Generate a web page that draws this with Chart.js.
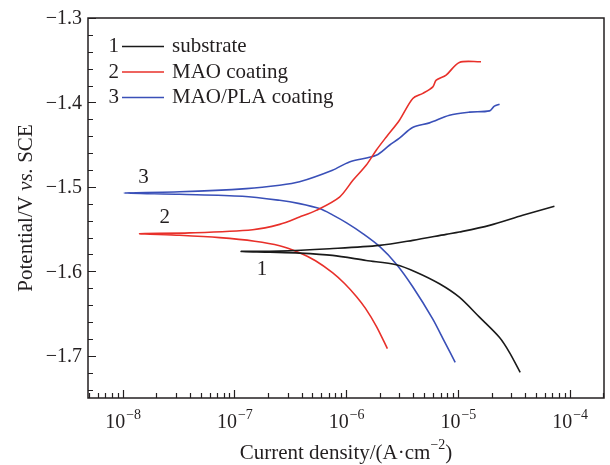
<!DOCTYPE html>
<html>
<head>
<meta charset="utf-8">
<script src="https://cdn.jsdelivr.net/npm/chart.js@4/dist/chart.umd.min.js"></script>
<style>
  body { margin: 0; background: #fff; }
  #wrap { width: 610px; height: 465px; }
</style>
</head>
<body>
<div id="wrap"><canvas id="tafelChart"></canvas></div>
<script>
// Polarisation curves (current in A/cm2, potential in V vs. SCE)
// each curve runs cathodic end -> corrosion potential -> anodic end
const substrateCurrent = [3.61e-5, 2.90e-5, 2.36e-5, 1.56e-5, 1.03e-5, 6.84e-6, 4.24e-6, 2.81e-6, 1.51e-6, 7.55e-7, 3.83e-7, 2.07e-7, 1.15e-7,
  2.54e-7, 7.11e-7, 1.99e-6, 3.95e-6, 7.85e-6, 1.03e-5, 1.92e-5, 3.80e-5, 7.31e-5];
const substratePotential = [-1.7196, -1.6962, -1.6784, -1.6543, -1.6306, -1.6147, -1.6010, -1.5922, -1.5871, -1.5811, -1.5784, -1.5773, -1.5764,
  -1.5760, -1.5732, -1.5693, -1.5633, -1.5562, -1.5535, -1.5456, -1.5337, -1.5230];

const maoCurrent = [2.34e-6, 1.87e-6, 1.49e-6, 1.24e-6, 9.68e-7, 7.55e-7, 5.32e-7, 3.83e-7, 2.54e-7, 1.52e-7, 7.38e-8, 3.24e-8, 1.42e-8,
  3.97e-8, 1.46e-7, 2.54e-7, 3.83e-7, 5.40e-7, 8.73e-7, 1.15e-6, 1.51e-6, 1.86e-6, 2.29e-6, 3.00e-6, 3.95e-6, 4.86e-6,
  5.97e-6, 6.40e-6, 7.85e-6, 1.03e-5, 1.61e-5];
const maoPotential = [-1.6915, -1.6654, -1.6439, -1.6300, -1.6144, -1.6015, -1.5874, -1.5779, -1.5696, -1.5643, -1.5601, -1.5573, -1.5554,
  -1.5545, -1.5507, -1.5444, -1.5357, -1.5278, -1.5120, -1.4922, -1.4744, -1.4566, -1.4408, -1.4210, -1.3953, -1.3893,
  -1.3815, -1.3736, -1.3676, -1.3526, -1.3518];

const plaCurrent = [9.46e-6, 7.59e-6, 5.93e-6, 3.93e-6, 2.83e-6, 1.99e-6, 1.40e-6, 1.01e-6, 7.55e-7, 5.78e-7, 3.83e-7, 2.54e-7, 1.18e-7, 3.24e-8, 1.03e-8,
  3.24e-8, 1.28e-7, 2.54e-7, 3.83e-7, 7.55e-7, 1.07e-6, 1.86e-6, 2.44e-6, 3.00e-6, 3.93e-6, 5.57e-6, 8.41e-6, 1.27e-5,
  1.92e-5, 2.12e-5, 2.36e-5];
const plaPotential = [-1.7077, -1.6832, -1.6559, -1.6179, -1.5918, -1.5705, -1.5550, -1.5426, -1.5331, -1.5257, -1.5198, -1.5159, -1.5111, -1.5088, -1.5072,
  -1.5058, -1.5020, -1.4981, -1.4940, -1.4803, -1.4705, -1.4625, -1.4507, -1.4423, -1.4297, -1.4242, -1.4151, -1.4115,
  -1.4100, -1.4044, -1.4020];

const seriesNames = ['substrate', 'MAO coating', 'MAO/PLA coating'];
const seriesColors = ['#1a1a1a', '#e8302a', '#3a50b8'];

// where the numbers 1, 2, 3 sit next to the curves
const curveLabelCurrent = [1.77e-7, 2.38e-8, 1.54e-8];
const curveLabelPotential = [-1.5977, -1.5367, -1.4886];

// axis ticks
const yMajorTicks = [-1.3, -1.4, -1.5, -1.6, -1.7];
const xMajorExponents = [-8, -7, -6, -5, -4];

const textColor = '#231f20';
const serif = '"Liberation Serif", "Times New Roman", serif';

function toPoints(xs, ys) {
    return xs.map((x, i) => ({ x: x, y: ys[i] }));
}

const curves = [
    toPoints(substrateCurrent, substratePotential),
    toPoints(maoCurrent, maoPotential),
    toPoints(plaCurrent, plaPotential)
];

// Frame, inward ticks, labels, legend
const decorPlugin = {
    id: 'decor',
    afterDraw(chart) {
        const ctx = chart.ctx;
        const area = chart.chartArea;
        const xs = chart.scales.x;
        const ys = chart.scales.y;
        ctx.save();
        ctx.strokeStyle = textColor;
        ctx.fillStyle = textColor;

        // frame
        ctx.lineWidth = 1.5;
        ctx.strokeRect(area.left, area.top, area.right - area.left, area.bottom - area.top);

        ctx.lineWidth = 1.2;
        ctx.beginPath();
        // y ticks every 0.02, major every 0.1
        for (let k = 0; k <= 22; k++) {
            const v = -1.3 - k * 0.02;
            const py = Math.round(ys.getPixelForValue(v)) + 0.5;
            const len = (k % 5 === 0) ? 8 : 5;
            ctx.moveTo(area.left, py);
            ctx.lineTo(area.left + len, py);
        }
        // x ticks, log minor ticks
        for (let d = -9; d <= -4; d++) {
            for (let m = 1; m <= 9; m++) {
                const v = m * Math.pow(10, d);
                if (v < xs.min || v > xs.max) continue;
                const px = Math.round(xs.getPixelForValue(v)) + 0.5;
                const len = (m === 1) ? 8 : 5;
                ctx.moveTo(px, area.bottom);
                ctx.lineTo(px, area.bottom - len);
            }
        }
        ctx.stroke();

        // y tick labels
        ctx.font = '20px ' + serif;
        ctx.textAlign = 'right';
        ctx.textBaseline = 'middle';
        yMajorTicks.forEach(v => {
            ctx.fillText('\u2212' + Math.abs(v).toFixed(1), area.left - 6, ys.getPixelForValue(v) + 1);
        });

        // x tick labels 10^n
        ctx.textAlign = 'left';
        ctx.textBaseline = 'alphabetic';
        xMajorExponents.forEach(e => {
            const px = xs.getPixelForValue(Math.pow(10, e));
            ctx.font = '20px ' + serif;
            const baseW = ctx.measureText('10').width;
            ctx.font = '14px ' + serif;
            const sup = '\u2212' + Math.abs(e);
            const supW = ctx.measureText(sup).width;
            const x0 = px - (baseW + supW) / 2;
            ctx.font = '20px ' + serif;
            ctx.fillText('10', x0, 428);
            ctx.font = '14px ' + serif;
            ctx.fillText(sup, x0 + baseW + 1, 419);
        });

        // x axis title
        const cx = (area.left + area.right) / 2;
        ctx.font = '21px ' + serif;
        const t1 = 'Current density/(A\u00b7cm';
        const t3 = ')';
        const w1 = ctx.measureText(t1).width;
        const w3 = ctx.measureText(t3).width;
        ctx.font = '14px ' + serif;
        const t2 = '\u22122';
        const w2 = ctx.measureText(t2).width;
        let tx = cx - (w1 + w2 + w3) / 2;
        ctx.font = '21px ' + serif;
        ctx.fillText(t1, tx, 459);
        ctx.font = '14px ' + serif;
        ctx.fillText(t2, tx + w1, 449);
        ctx.font = '21px ' + serif;
        ctx.fillText(t3, tx + w1 + w2, 459);

        // y axis title, rotated, with italic "vs."
        const cy = (area.top + area.bottom) / 2;
        ctx.save();
        ctx.translate(32, cy);
        ctx.rotate(-Math.PI / 2);
        const parts = [['Potential/V ', ''], ['vs.', 'italic '], [' SCE', '']];
        let total = 0;
        parts.forEach(p => { ctx.font = p[1] + '21px ' + serif; total += ctx.measureText(p[0]).width; });
        let ox = -total / 2;
        parts.forEach(p => {
            ctx.font = p[1] + '21px ' + serif;
            ctx.fillText(p[0], ox, 0);
            ox += ctx.measureText(p[0]).width;
        });
        ctx.restore();

        // legend
        ctx.font = '21px ' + serif;
        seriesNames.forEach((name, i) => {
            const base = 52 + i * 25.5;
            ctx.fillStyle = textColor;
            ctx.textAlign = 'right';
            ctx.fillText(String(i + 1), 119, base);
            ctx.textAlign = 'left';
            ctx.fillText(name, 172, base);
            ctx.strokeStyle = seriesColors[i];
            ctx.lineWidth = 1.5;
            ctx.beginPath();
            ctx.moveTo(122, base - 5.5);
            ctx.lineTo(164, base - 5.5);
            ctx.stroke();
        });

        // curve numbers
        ctx.fillStyle = textColor;
        ctx.textAlign = 'center';
        ctx.textBaseline = 'middle';
        curveLabelCurrent.forEach((c, i) => {
            ctx.fillText(String(i + 1), xs.getPixelForValue(c), ys.getPixelForValue(curveLabelPotential[i]));
        });

        ctx.restore();
    }
};

const config = {
    type: 'scatter',
    data: {
        datasets: curves.map((pts, i) => ({
            label: seriesNames[i],
            data: pts,
            showLine: true,
            borderColor: seriesColors[i],
            backgroundColor: seriesColors[i],
            borderWidth: 1.6,
            pointRadius: 0,
            tension: 0.3
        }))
    },
    options: {
        responsive: true,
        maintainAspectRatio: false,
        animation: false,
        layout: { padding: { left: 88, right: 6, top: 18, bottom: 67 } },
        plugins: {
            legend: { display: false },
            tooltip: { enabled: false }
        },
        scales: {
            x: { type: 'logarithmic', min: 4.9e-9, max: 2.03e-4, display: false },
            y: { type: 'linear', min: -1.75, max: -1.3, display: false }
        }
    },
    plugins: [decorPlugin]
};

const ctx = document.getElementById('tafelChart').getContext('2d');
window.myChart = new Chart(ctx, config);
</script>
</body>
</html>
